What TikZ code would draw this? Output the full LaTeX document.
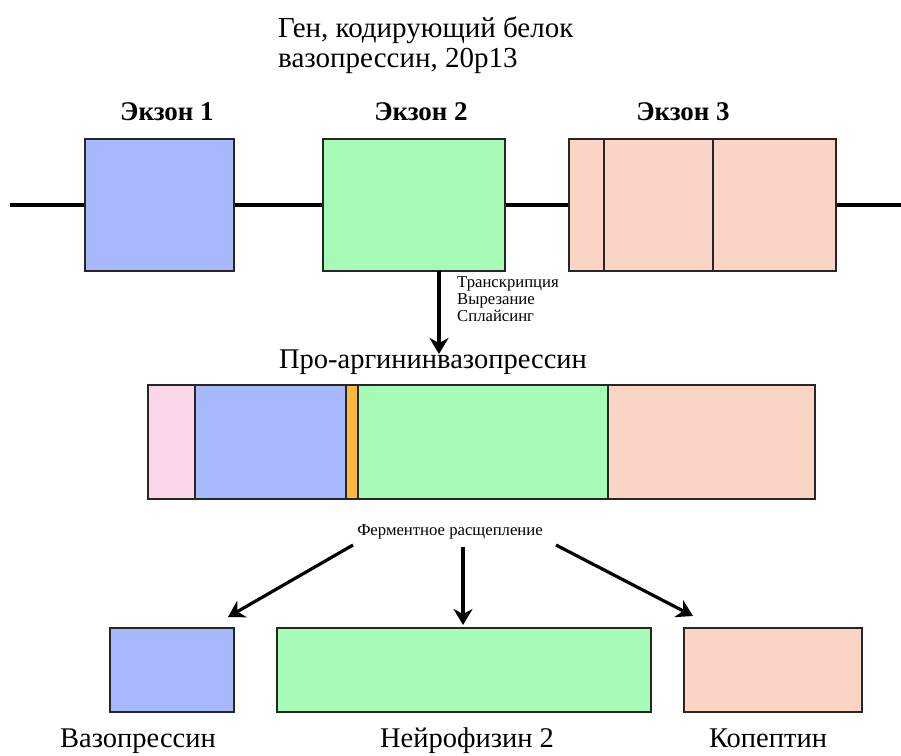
\documentclass[tikz,border=0pt]{standalone}
\usepackage{fontspec}
\setmainfont{Liberation Serif}
\usetikzlibrary{arrows.meta}
\definecolor{exBlue}{RGB}{167,185,252}
\definecolor{exGreen}{RGB}{166,252,183}
\definecolor{exSalmon}{RGB}{252,212,197}
\definecolor{exPink}{RGB}{251,214,234}
\definecolor{exOrange}{RGB}{255,183,61}
\tikzset{
  box/.style = {draw = black!85, line width = 1.5pt, inner sep = 0pt},
  arr/.style = {line width = 3.2pt, -{Stealth[length = 16pt, width = 19pt, inset = 5pt]}},
  small/.style = {font = \fontsize{16.7}{17}\selectfont, inner sep = 0pt},
  big/.style = {font = \fontsize{28.5}{30}\selectfont, inner sep = 0pt},
  exlabel/.style = {font = \bfseries\fontsize{27}{30}\selectfont, inner sep = 0pt},
}

\begin{document}
\begin{tikzpicture}[x = 1pt, y = -1pt]
		\useasboundingbox (0, 0) rectangle (901, 755);
		%%%%%%%%%%%%%
		\node [anchor = west, align = left, inner sep = 0pt, font = \fontsize{29}{30}\selectfont] (title) at (278, 45) {Ген, кодирующий белок\\вазопрессин, 20p13};
		\node [exlabel] (l1) at (167, 112) {Экзон 1};
		\node [exlabel] (l2) at (421, 112) {Экзон 2};
		\node [exlabel] (l3) at (683, 112) {Экзон 3};
		%%%%%%%%%%%%%
		\coordinate (g0) at (10, 205); \coordinate (g1) at (901, 205);
		\node [box, fill = exBlue, minimum width = 149, minimum height = 132] (e1) at (159.5, 205) {};
		\node [box, fill = exGreen, minimum width = 182, minimum height = 132] (e2) at (414, 205) {};
		\node [box, fill = exSalmon, minimum width = 267, minimum height = 132] (e3) at (702.5, 205) {};
		\draw [box] (604, 139) to (604, 271); \draw [box] (713, 139) to (713, 271);
		\draw [line width = 3.5pt] (g0) to (e1.west); \draw [line width = 3.5pt] (e1.east) to (e2.west);
		\draw [line width = 3.5pt] (e2.east) to (e3.west); \draw [line width = 3.5pt] (e3.east) to (g1);
		%%%%%%%%%%%%%
		\coordinate (t0) at (439, 271); \coordinate (t1) at (439, 354);
		\draw [arr] (t0) to (t1);
		\node [small, anchor = north west, align = left] (steps) at (457, 276) {Транскрипция\\Вырезание\\Сплайсинг};
		\node [big] (proavp) at (433, 362) {Про-аргининвазопрессин};
		%%%%%%%%%%%%%
		\node [box, fill = exPink, minimum width = 47, minimum height = 114] (p1) at (171.5, 442) {};
		\node [box, fill = exBlue, minimum width = 151, minimum height = 114] (p2) at (270.5, 442) {};
		\node [box, fill = exOrange, minimum width = 12, minimum height = 114] (p3) at (352, 442) {};
		\node [box, fill = exGreen, minimum width = 250, minimum height = 114] (p4) at (483, 442) {};
		\node [box, fill = exSalmon, minimum width = 207, minimum height = 114] (p5) at (711.5, 442) {};
		%%%%%%%%%%%%%
		\node [small] (ferm) at (450, 532) {Ферментное расщепление};
		\node [box, fill = exBlue, minimum width = 124, minimum height = 84] (vp) at (172, 670) {};
		\node [box, fill = exGreen, minimum width = 374, minimum height = 84] (nf) at (464, 670) {};
		\node [box, fill = exSalmon, minimum width = 178, minimum height = 84] (cp) at (773, 670) {};
		\coordinate (f1) at (353, 545); \coordinate (f2) at (463, 547); \coordinate (f3) at (556, 545);
		\coordinate (v1) at (228, 617); \coordinate (n1) at (463, 625); \coordinate (c1) at (693, 616);
		\draw [arr] (f1) to (v1); \draw [arr] (f2) to (n1); \draw [arr] (f3) to (c1);
		%%%%%%%%%%%%%
		\node [big, anchor = base] (vpl) at (138, 747) {Вазопрессин};
		\node [big, anchor = base] (nfl) at (467, 747) {Нейрофизин 2};
		\node [big, anchor = base] (cpl) at (768, 747) {Копептин};
\end{tikzpicture}
\end{document}
